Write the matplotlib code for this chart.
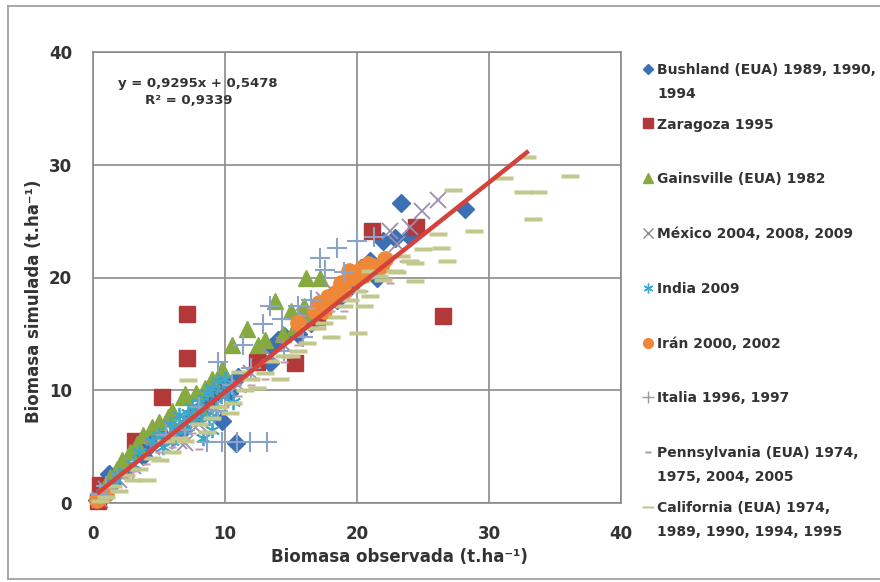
import matplotlib
matplotlib.use("Agg")
import matplotlib.pyplot as plt
import numpy as np
from matplotlib.path import Path
from matplotlib.lines import Line2D

# ---- data: observed vs simulated biomass (t/ha) per site ----
bushland_x = [0.3, 0.8, 1.2, 1.5, 2.0, 2.5, 3.3, 3.8, 4.2, 4.5, 5.3, 6.2, 6.8, 7.5, 8.0, 8.6, 8.8, 9.2, 9.5, 10.0, 10.3, 9.8, 10.8, 11.0, 12.5, 13.4, 13.5, 14.0, 14.5, 15.5, 16.5, 17.5, 18.5, 19.5, 20.3, 21.0, 21.5, 22.0, 22.9, 23.3, 24.0, 28.2]
bushland_y = [0.3, 0.6, 2.6, 1.8, 2.8, 3.0, 4.6, 4.2, 5.0, 5.5, 5.9, 6.0, 6.5, 7.7, 8.0, 8.7, 9.5, 9.6, 10.5, 10.8, 9.8, 7.3, 5.3, 11.2, 13.0, 12.4, 13.8, 14.5, 14.8, 15.0, 16.0, 17.5, 18.0, 19.2, 20.8, 21.5, 20.0, 23.2, 23.5, 26.6, 23.6, 26.1]

zaragoza_x = [0.4, 0.5, 3.2, 5.2, 7.1, 7.1, 12.4, 15.3, 17.0, 21.1, 24.5, 26.5]
zaragoza_y = [0.2, 1.6, 5.5, 9.4, 12.9, 16.8, 12.5, 12.4, 16.5, 24.1, 24.5, 16.6]

gainsville_x = [0.6, 0.9, 1.3, 1.8, 2.2, 2.8, 3.3, 3.8, 4.5, 5.0, 5.7, 6.0, 6.8, 7.0, 7.8, 8.0, 8.5, 9.0, 9.8, 10.5, 11.7, 12.5, 13.0, 13.8, 14.4, 15.0, 15.3, 16.0, 16.5, 16.1, 17.2]
gainsville_y = [1.0, 1.5, 2.3, 3.0, 3.8, 4.5, 5.2, 6.0, 6.7, 7.2, 7.6, 8.2, 9.4, 9.7, 9.8, 8.6, 10.2, 11.0, 11.9, 14.0, 15.4, 14.0, 14.5, 17.9, 15.0, 17.0, 15.6, 17.5, 16.8, 20.0, 20.0]

mexico_x = [0.5, 1.0, 2.0, 3.0, 4.5, 5.5, 6.0, 6.5, 7.0, 7.5, 8.0, 8.5, 9.0, 10.0, 11.0, 12.0, 13.5, 14.5, 16.0, 17.5, 18.0, 19.0, 20.0, 21.5, 22.5, 23.0, 24.0, 24.9, 26.1]
mexico_y = [0.3, 1.2, 2.0, 3.3, 5.0, 5.8, 6.5, 5.5, 5.3, 7.0, 7.0, 8.5, 8.0, 9.5, 10.5, 11.5, 13.0, 14.0, 16.5, 18.0, 19.0, 18.5, 20.5, 21.0, 24.1, 23.0, 24.5, 25.9, 26.9]

india_x = [0.3, 1.5, 2.0, 3.0, 3.5, 4.5, 5.0, 5.3, 5.8, 6.0, 6.3, 6.5, 6.8, 7.0, 7.2, 7.5, 7.8, 8.0, 8.2, 8.3, 8.6, 8.8, 9.0, 9.0, 9.3, 9.5, 9.7, 10.0, 10.2, 10.6]
india_y = [0.5, 1.8, 2.5, 3.5, 4.5, 5.5, 6.0, 5.0, 7.0, 5.5, 6.5, 7.8, 7.2, 6.5, 8.0, 8.5, 7.5, 9.0, 8.0, 5.8, 9.8, 7.5, 10.2, 6.5, 8.3, 10.8, 9.5, 11.0, 10.0, 9.0]

iran_x = [0.3, 1.0, 15.5, 16.8, 17.1, 17.5, 17.8, 18.3, 18.8, 19.0, 19.4, 19.8, 20.4, 20.5, 20.8, 21.2, 21.8, 22.1]
iran_y = [0.3, 0.8, 16.0, 17.0, 17.7, 17.0, 18.3, 18.6, 19.5, 18.8, 20.6, 20.0, 20.8, 20.2, 21.2, 21.0, 21.0, 21.6]

italia_x = [0.5, 1.0, 3.0, 5.5, 7.0, 8.0, 8.6, 9.8, 10.9, 11.9, 13.2, 9.5, 9.5, 10.5, 11.4, 12.0, 12.9, 13.4, 14.5, 15.5, 15.9, 14.3, 16.5, 17.2, 17.6, 18.5, 19.0, 20.0, 21.3]
italia_y = [0.8, 1.5, 3.0, 6.0, 6.5, 8.5, 5.4, 5.4, 5.4, 5.4, 5.4, 8.2, 12.5, 10.5, 14.0, 12.0, 15.9, 17.5, 13.5, 17.5, 14.7, 16.3, 18.0, 21.7, 20.7, 22.6, 20.5, 23.2, 23.6]

pennsylvania_x = [0.8, 1.5, 2.5, 3.0, 4.0, 5.0, 6.0, 7.0, 7.5, 8.0, 9.0, 10.0, 11.0, 12.0, 13.0, 14.5, 15.5, 16.5, 17.5, 18.0, 19.0, 20.5, 21.0, 22.5, 23.5]
pennsylvania_y = [0.5, 1.2, 2.2, 2.8, 3.5, 4.5, 5.0, 5.8, 6.2, 4.8, 7.5, 8.5, 9.5, 10.5, 11.0, 12.5, 14.0, 17.3, 16.0, 17.0, 17.0, 18.8, 20.0, 19.5, 21.5]

california_x = [0.5, 1.0, 1.5, 2.0, 2.5, 3.0, 3.5, 4.1, 4.5, 5.1, 5.5, 6.0, 6.5, 7.0, 8.0, 8.6, 9.0, 9.5, 10.4, 10.6, 7.2, 11.1, 11.5, 12.0, 12.4, 13.0, 13.4, 14.2, 14.5, 15.0, 15.5, 16.2, 16.5, 17.0, 17.5, 18.0, 18.5, 19.0, 19.5, 20.1, 20.5, 21.0, 21.0, 20.0, 21.7, 22.0, 22.9, 23.0, 23.3, 24.0, 24.4, 24.4, 25.0, 26.8, 26.4, 26.1, 28.9, 27.3, 31.1, 32.6, 33.7, 33.3, 32.9, 36.1]
california_y = [0.2, 0.5, 1.5, 1.1, 2.5, 2.0, 3.0, 2.0, 4.0, 3.8, 5.5, 4.5, 5.8, 5.5, 7.0, 6.3, 7.5, 8.5, 8.0, 8.9, 10.9, 11.6, 10.0, 11.0, 10.2, 11.5, 12.6, 11.0, 13.0, 13.0, 13.5, 14.2, 15.5, 15.5, 16.0, 14.7, 16.5, 17.5, 18.0, 15.1, 17.5, 18.4, 20.6, 18.8, 20.1, 19.8, 20.6, 20.5, 21.9, 21.5, 19.7, 21.3, 22.5, 21.5, 22.6, 23.9, 24.1, 27.8, 28.8, 27.6, 27.6, 25.2, 30.7, 29.0]

# linear fit reported on the chart
slope, intercept, r2 = 0.9295, 0.5478, 0.9339
fit_x = [0.3, 33.0]

labels = [
    "Bushland (EUA) 1989, 1990,\n1994",
    "Zaragoza 1995",
    "Gainsville (EUA) 1982",
    "México 2004, 2008, 2009",
    "India 2009",
    "Irán 2000, 2002",
    "Italia 1996, 1997",
    "Pennsylvania (EUA) 1974,\n1975, 2004, 2005",
    "California (EUA) 1974,\n1989, 1990, 1994, 1995",
]
ticks = [0, 10, 20, 30, 40]

# ---- marker shapes ----
long_dash = Path([(-1, -0.2), (1, -0.2), (1, 0.2), (-1, 0.2), (-1, -0.2)],
                 [Path.MOVETO, Path.LINETO, Path.LINETO, Path.LINETO, Path.CLOSEPOLY])
short_dash = Path([(-1, -0.3), (1, -0.3), (1, 0.3), (-1, 0.3), (-1, -0.3)],
                  [Path.MOVETO, Path.LINETO, Path.LINETO, Path.LINETO, Path.CLOSEPOLY])

series = [
    (bushland_x, bushland_y, dict(marker="D", ms=9.5, color="#3B6FB6", mec="#3B6FB6")),
    (zaragoza_x, zaragoza_y, dict(marker="s", ms=12, color="#B3383A", mec="#B3383A")),
    (gainsville_x, gainsville_y, dict(marker="^", ms=12, color="#86A940", mec="#86A940")),
    (mexico_x, mexico_y, dict(marker="x", ms=11, color="#9C8DB0", mew=1.3)),
    (india_x, india_y, dict(marker=(6, 2, 0), ms=11, color="#3EA6C8", mew=1.3)),
    (iran_x, iran_y, dict(marker="o", ms=11, color="#EE8838", mec="#EE8838")),
    (italia_x, italia_y, dict(marker="+", ms=14, color="#8BA3C7", mew=1.5)),
    (pennsylvania_x, pennsylvania_y, dict(marker=short_dash, ms=6, color="#C49BAA", mec="none")),
    (california_x, california_y, dict(marker=long_dash, ms=13, color="#C2C78C", mec="none")),
]
legend_marks = [
    dict(marker="D", ms=5, color="#3B6FB6", mec="#3B6FB6"),
    dict(marker="s", ms=7, color="#B3383A", mec="#B3383A"),
    dict(marker="^", ms=7, color="#86A940", mec="#86A940"),
    dict(marker="x", ms=7, color="#8C8C8C", mew=1.0),
    dict(marker=(6, 2, 0), ms=7, color="#3EA6C8", mew=1.0),
    dict(marker="o", ms=7, color="#EE8838", mec="#EE8838"),
    dict(marker="+", ms=8, color="#9A9A9A", mew=1.0),
    dict(marker=short_dash, ms=5, color="#A0A0A0", mec="none"),
    dict(marker=long_dash, ms=8, color="#C2C78C", mec="none"),
]

W, H = 880, 582
fig = plt.figure(figsize=(W / 100, H / 100), dpi=100)
fig.patch.set_facecolor("white")

# chart frame
for xs, ys in [([8, 880], [6, 6]), ([8, 8], [6, 579]), ([8, 880], [579, 579])]:
    fig.add_artist(Line2D([x / W for x in xs], [1 - y / H for y in ys],
                          color="#9A9A9A", lw=1.2, transform=fig.transFigure))

ax = fig.add_axes([93 / W, 1 - 503 / H, 528 / W, 451 / H])
ax.set_xlim(0, 40)
ax.set_ylim(0, 40)
ax.set_xticks(ticks)
ax.set_yticks(ticks)
ax.grid(True, color="#8A8A8A", lw=1.2)
ax.set_axisbelow(True)
for s in ax.spines.values():
    s.set_color("#8A8A8A")
    s.set_linewidth(1.2)
ax.tick_params(length=0, labelsize=12, labelcolor="#333333")
ax.tick_params(axis="y", pad=15)
ax.tick_params(axis="x", pad=16)
for lab in ax.get_xticklabels() + ax.get_yticklabels():
    lab.set_fontfamily("DejaVu Sans")
    lab.set_fontweight("bold")

for i, (xs, ys, st) in enumerate(series):
    ax.plot(xs, ys, ls="none", clip_on=False, zorder=3 + i, **st)

fx = np.array(fit_x)
ax.plot(fx, slope * fx + intercept, color="#D5423C", lw=3.2, zorder=20,
        solid_capstyle="butt")

ax.text((118 - 93) / 528, 1 - (83 - 52) / 451,
        f"y = {slope:.4f}x + {intercept:.4f}".replace(".", ","),
        transform=ax.transAxes, fontsize=9.5, fontweight="bold",
        family="DejaVu Sans", color="#333333", va="center", ha="left")
ax.text((189 - 93) / 528, 1 - (100 - 52) / 451,
        f"R² = {r2:.4f}".replace(".", ","),
        transform=ax.transAxes, fontsize=9.5, fontweight="bold",
        family="DejaVu Sans", color="#333333", va="center", ha="center")

fig.text(399 / W, 1 - 557 / H, "Biomasa observada (t.ha⁻¹)", ha="center", va="center",
         fontsize=12, fontweight="bold", family="DejaVu Sans", color="#333333")
fig.text(34 / W, 1 - 301 / H, "Biomasa simulada (t.ha⁻¹)", ha="center", va="center",
         rotation=90, fontsize=12, fontweight="bold", family="DejaVu Sans",
         color="#333333")

# legend column
y0, step, line_h = 68.5, 54.8, 23.8
for k, (lab, mk) in enumerate(zip(labels, legend_marks)):
    yc = y0 + k * step
    fig.add_artist(Line2D([648 / W], [1 - yc / H], ls="none",
                          transform=fig.transFigure, **mk))
    for j, line in enumerate(lab.split("\n")):
        fig.text(657 / W, 1 - (yc + 5.2 + j * line_h) / H, line, ha="left",
                 va="baseline", fontsize=10.0, fontweight="bold",
                 family="DejaVu Sans", color="#333333")

fig.savefig("out.png", dpi=100, facecolor="white")
